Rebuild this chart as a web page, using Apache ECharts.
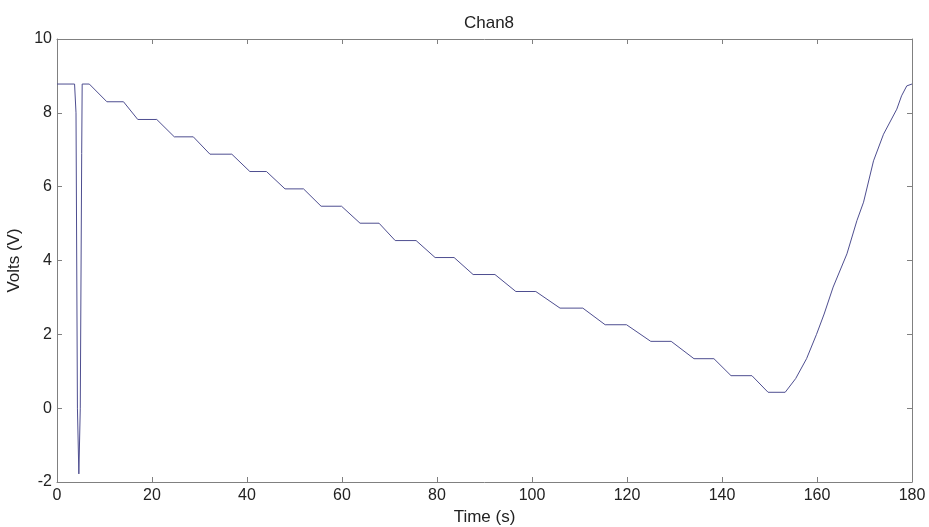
<!DOCTYPE html>
<html>
<head>
<meta charset="utf-8">
<script src="https://cdn.jsdelivr.net/npm/echarts@6/dist/echarts.min.js"></script>
<style>html,body{margin:0;padding:0;background:#fff}#c{width:929px;height:527px}</style>
</head>
<body>
<div id="c"></div>
<script>
var timeS = [0, 3.7, 4.0, 4.3, 4.6, 4.9, 5.2, 5.3, 6.8, 10.5, 14, 17, 21, 24.7, 28.7, 32.2, 36.8, 40.6, 44.1, 48, 51.9, 55.6, 59.9, 63.8, 67.8, 71.2, 75.6, 79.6, 83.6, 87.6, 92.2, 96.6, 100.8, 105.9, 110.7, 115.4, 119.9, 125, 129.3, 134.1, 138.3, 141.9, 146.3, 149.7, 153.3, 155.5, 157.8, 159.9, 161.5, 163.4, 166.3, 168.4, 169.8, 171.9, 174, 176.8, 177.8, 178.9, 180];
var volts = [8.78, 8.78, 8.0, 0, -1.78, 0, 6.9, 8.78, 8.78, 8.3, 8.3, 7.82, 7.82, 7.35, 7.35, 6.88, 6.88, 6.41, 6.41, 5.94, 5.94, 5.47, 5.47, 5.01, 5.01, 4.54, 4.54, 4.08, 4.08, 3.62, 3.62, 3.16, 3.16, 2.71, 2.71, 2.26, 2.26, 1.81, 1.81, 1.34, 1.34, 0.88, 0.88, 0.43, 0.43, 0.8, 1.34, 2.0, 2.55, 3.28, 4.18, 5.08, 5.58, 6.7, 7.42, 8.1, 8.46, 8.73, 8.78];
var xTicks = [0, 20, 40, 60, 80, 100, 120, 140, 160, 180];
var yTicks = [-2, 0, 2, 4, 6, 8, 10];

var pts = timeS.map(function (t, i) { return [t, volts[i]]; });
var font = 'Liberation Sans, Arial, sans-serif';
var axisCol = '#808080';
function xAx(show, pos) {
  return {
    type: 'value', min: xTicks[0], max: xTicks[xTicks.length - 1], interval: 20, position: pos,
    name: show ? 'Time (s)' : '', nameLocation: 'middle', nameGap: 24,
    nameTextStyle: { fontFamily: font, fontSize: 17, color: '#222' },
    axisLine: { show: true, onZero: false, lineStyle: { color: axisCol, width: 1 } },
    axisTick: { show: true, inside: true, length: 5, lineStyle: { color: axisCol } },
    axisLabel: { show: show, margin: 6, fontFamily: font, fontSize: 16, color: '#222' },
    splitLine: { show: false }
  };
}
function yAx(show, pos) {
  return {
    type: 'value', min: yTicks[0], max: yTicks[yTicks.length - 1], interval: 2, position: pos,
    name: show ? 'Volts (V)' : '', nameLocation: 'middle', nameGap: 26,
    nameTextStyle: { fontFamily: font, fontSize: 17, color: '#222' },
    axisLine: { show: true, onZero: false, lineStyle: { color: axisCol, width: 1 } },
    axisTick: { show: true, inside: true, length: 5, lineStyle: { color: axisCol } },
    axisLabel: { show: show, margin: 5, fontFamily: font, fontSize: 16, color: '#222' },
    splitLine: { show: false }
  };
}
var chart = echarts.init(document.getElementById('c'), null, { renderer: 'canvas' });
chart.setOption({
  backgroundColor: '#fff',
  animation: false,
  title: { text: 'Chan8', left: 484, top: 10, textAlign: 'center',
    textStyle: { fontFamily: font, fontSize: 17, fontWeight: 'normal', color: '#222' } },
  grid: { left: 57, right: 17, top: 39, bottom: 45, containLabel: false, outerBoundsMode: 'none' },
  xAxis: [xAx(true, 'bottom'), xAx(false, 'top')],
  yAxis: [yAx(true, 'left'), yAx(false, 'right')],
  series: [{
    type: 'line', data: pts, showSymbol: false, symbol: 'none',
    lineStyle: { color: '#4e4e90', width: 1 }
  }]
});
</script>
</body>
</html>
